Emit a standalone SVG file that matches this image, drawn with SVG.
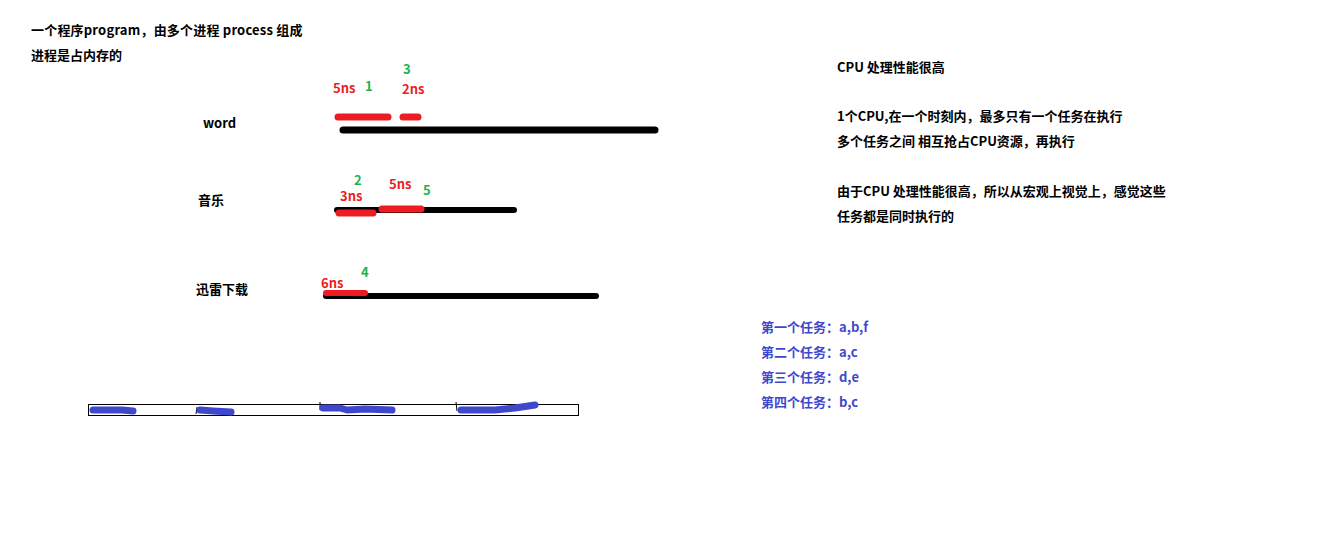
<svg xmlns="http://www.w3.org/2000/svg" width="1317" height="543" viewBox="0 0 1317 543">
<style>
text{font-family:"Noto Sans CJK SC","Noto Sans",sans-serif;font-weight:bold;font-size:13px;fill:#000}
.r{fill:#ed1c24}
.g{fill:#22b14c}
.b{fill:#3f48cc}
.bk{stroke:#000;stroke-linecap:round;fill:none}
.rd{stroke:#ed1c24;stroke-linecap:round;fill:none}
.bl{stroke:#3f48cc;stroke-linecap:round;stroke-linejoin:round;fill:none;stroke-width:7}
</style>
<rect width="1317" height="543" fill="#fff"/>
<g id="header">
<text x="31" y="35" letter-spacing="0.2">一个程序program，由多个进程 process 组成</text>
<text x="31" y="60">进程是占内存的</text>
</g>
<g id="word">
<text x="203" y="128">word</text>
<text class="r" x="333" y="93">5ns</text>
<text class="g" x="365" y="91">1</text>
<text class="g" x="403" y="74">3</text>
<text class="r" x="402" y="94">2ns</text>
<line class="bk" x1="343" y1="130" x2="655" y2="130" stroke-width="7"/>
<line class="rd" x1="338" y1="117" x2="388" y2="117" stroke-width="7"/>
<line class="rd" x1="403" y1="117" x2="418" y2="117" stroke-width="7"/>
</g>
<g id="music">
<text x="198" y="205">音乐</text>
<text class="g" x="354" y="185">2</text>
<text class="r" x="340" y="201">3ns</text>
<text class="r" x="389" y="189">5ns</text>
<text class="g" x="423" y="195">5</text>
<line class="bk" x1="337" y1="210" x2="514" y2="210" stroke-width="6"/>
<line class="rd" x1="339" y1="213" x2="373" y2="213" stroke-width="7"/>
<line class="rd" x1="382" y1="209" x2="421" y2="209" stroke-width="7"/>
</g>
<g id="xunlei">
<text x="196" y="294">迅雷下载</text>
<text class="r" x="321" y="288">6ns</text>
<text class="g" x="361" y="277">4</text>
<line class="bk" x1="326" y1="296" x2="596" y2="296" stroke-width="6"/>
<line class="rd" x1="326" y1="293" x2="365" y2="293" stroke-width="6"/>
</g>
<g id="timeline">
<rect x="88.5" y="404.5" width="490" height="11" fill="none" stroke="#000" stroke-width="1"/>
<line x1="197" y1="407" x2="196" y2="414" stroke="#000" stroke-width="1"/>
<line x1="320" y1="402" x2="320" y2="410" stroke="#000" stroke-width="1"/>
<line x1="456" y1="402" x2="457" y2="411" stroke="#000" stroke-width="1"/>
<path class="bl" d="M93 410 L122 410 L133 411"/>
<path class="bl" d="M200 410 L213 411 L231 412"/>
<path class="bl" d="M323 408 L340 408 L347 410 L365 409 L392 410"/>
<path class="bl" d="M461 410 L495 410 L515 408 L535 405"/>
</g>
<g id="notes">
<text x="837" y="72">CPU 处理性能很高</text>
<text x="837" y="121">1个CPU,在一个时刻内，最多只有一个任务在执行</text>
<text x="837" y="146">多个任务之间 相互抢占CPU资源，再执行</text>
<text x="837" y="196">由于CPU 处理性能很高，所以从宏观上视觉上，感觉这些</text>
<text x="837" y="221">任务都是同时执行的</text>
</g>
<g id="tasks">
<text class="b" x="761" y="332">第一个任务：a,b,f</text>
<text class="b" x="761" y="357">第二个任务：a,c</text>
<text class="b" x="761" y="382">第三个任务：d,e</text>
<text class="b" x="761" y="407">第四个任务：b,c</text>
</g>
</svg>
